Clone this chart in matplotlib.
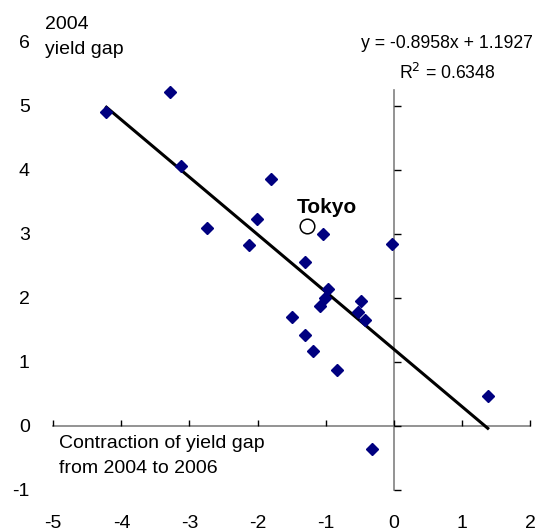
import numpy as np
import matplotlib.pyplot as plt

plt.rcParams['font.family'] = ['Liberation Sans', 'DejaVu Sans']

# Contraction of yield gap (x) vs 2004 yield gap (y)
gap_change = [-4.22, -3.29, -3.12, -2.74, -2.13, -2.01, -1.80,
              -1.04, -1.31, -0.03,
              -0.96, -1.01, -1.09, -0.48, -0.52, -0.43,
              -1.50, -1.31, -1.18, -0.83, 1.38, -0.32]
gap_2004 = [4.90, 5.21, 4.06, 3.08, 2.82, 3.23, 3.85,
            2.99, 2.56, 2.84,
            2.13, 2.00, 1.87, 1.95, 1.77, 1.65,
            1.69, 1.41, 1.17, 0.86, 0.46, -0.36]
tokyo = (-1.27, 3.11)

slope, intercept = -0.8958, 1.1927
r2 = 0.6348

xticks = np.arange(-5, 3)
yticks = np.arange(-1, 7)

fig = plt.figure(figsize=(5.35, 5.31), dpi=100)
ax = fig.add_axes([53.3 / 535, 41.5 / 531, 476.7 / 535, 448 / 531])
ax.set_xlim(-5, 2)
ax.set_ylim(-1, 6)
for s in ax.spines.values():
    s.set_visible(False)

# axes crossing at zero
ax.plot([-5, 2], [0, 0], color='#808080', lw=1.2, clip_on=False, zorder=1)
ax.plot([0, 0], [-1, 5.25], color='#808080', lw=1.2, clip_on=False, zorder=1)
ax.vlines(xticks, 0, 0.09, color='black', lw=1, clip_on=False, zorder=1)
ax.hlines(yticks[yticks < 5.5], 0, 0.1, color='black', lw=1, clip_on=False, zorder=1)

# tick labels out at the edges
ax.set_xticks(xticks)
ax.set_xticklabels([str(v) for v in xticks])
ax.set_yticks(yticks)
ax.set_yticklabels([str(v) for v in yticks])
ax.tick_params(axis='x', length=0, pad=18, labelsize=14)
ax.tick_params(axis='y', length=0, pad=17, labelsize=14)

# trend line
xl = np.array([-4.22, 1.38])
ax.plot(xl, slope * xl + intercept, color='black', lw=2.2, zorder=2)

ax.plot(gap_change, gap_2004, linestyle='none', marker='D', ms=6.2,
        color='#000080', zorder=3)
ax.plot(*tokyo, marker='o', ms=10.5, mfc='white', mec='black', mew=1.1,
        zorder=3)
ax.text(-1.42, 3.4, 'Tokyo', fontsize=15, fontweight='bold', va='center')

ax.text(0.78, 5.97, 'y = -0.8958x + 1.1927', fontsize=12.7, ha='center',
        va='center', clip_on=False)
ax.text(0.78, 5.51, 'R$^2$ = 0.6348', fontsize=12.7, ha='center',
        va='center')

ax.text(-5.125, 6.27, '2004', fontsize=14, va='center', clip_on=False)
ax.text(-5.125, 5.88, 'yield gap', fontsize=14, va='center')
ax.text(-4.92, -0.28, 'Contraction of yield gap', fontsize=14, va='center')
ax.text(-4.92, -0.67, 'from 2004 to 2006', fontsize=14, va='center')

fig.savefig('out.png', dpi=100)
